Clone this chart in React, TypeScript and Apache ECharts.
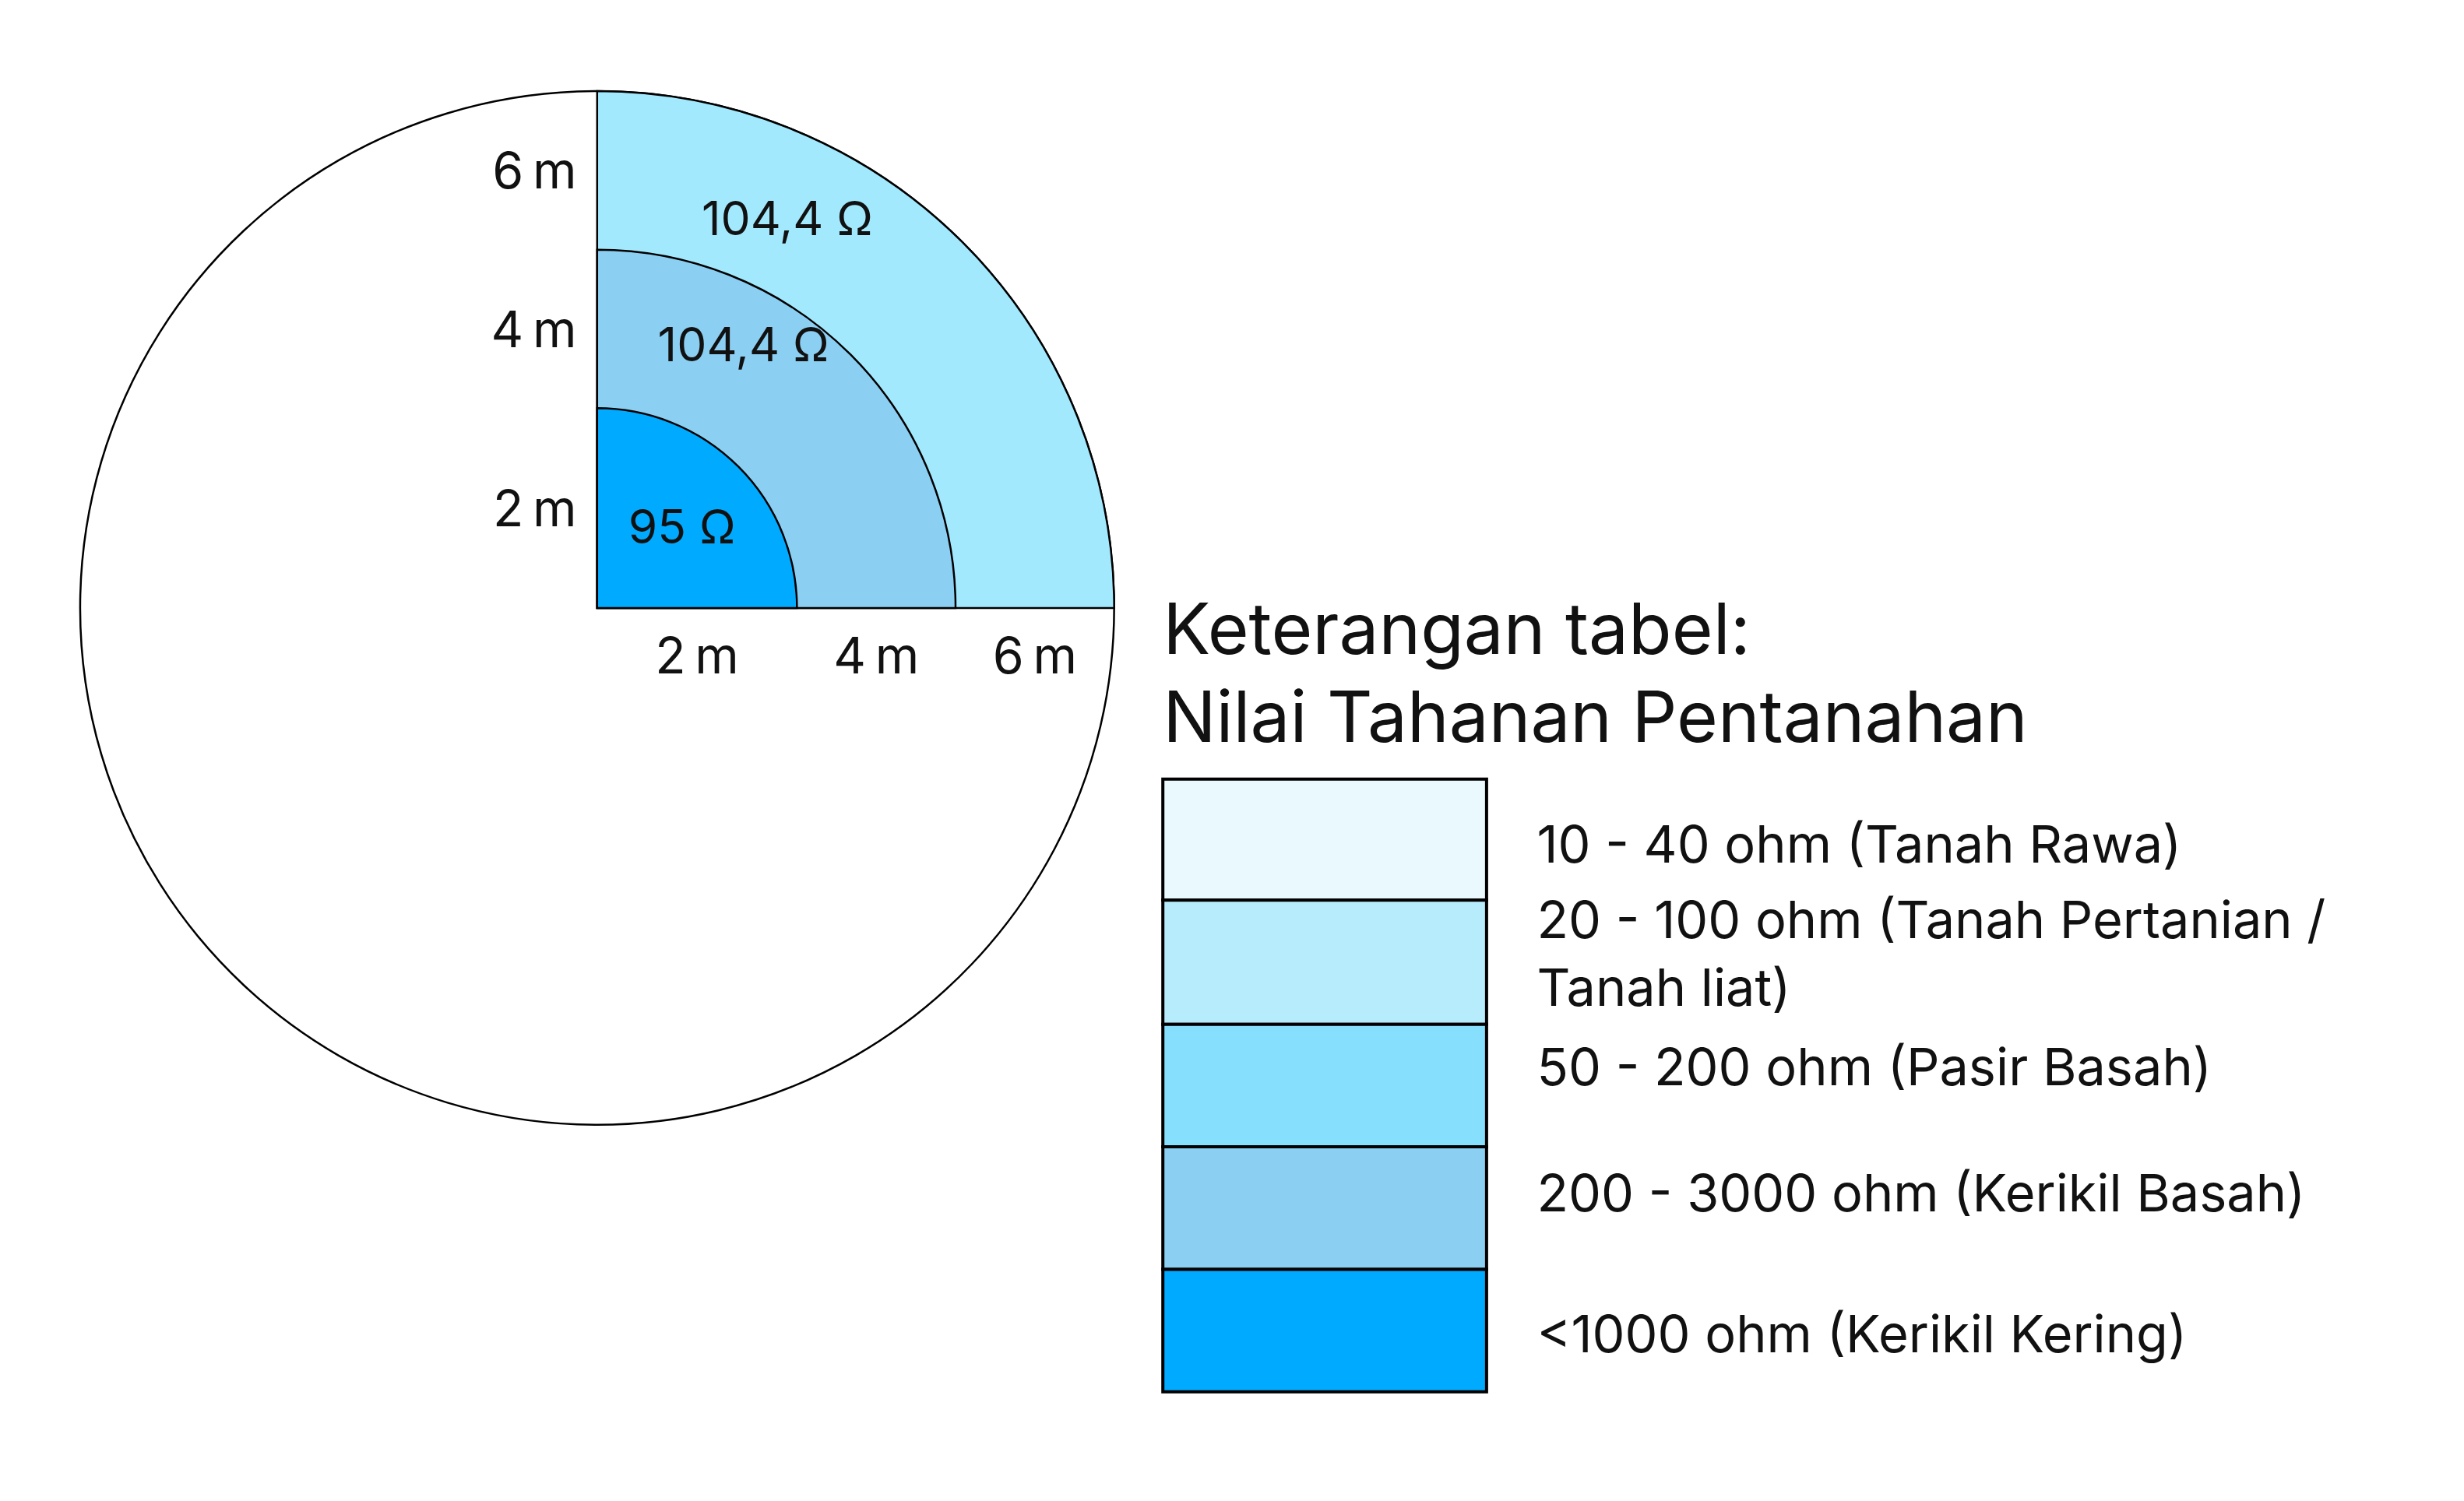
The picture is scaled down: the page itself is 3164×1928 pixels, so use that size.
import React, { useEffect, useRef } from 'react';
import * as echarts from 'echarts';

// ring boundaries (m) and resistances
const ringRanges = [[0, 2], [2, 4], [4, 6]];
const ringLabels = ['95 Ω', '104,4 Ω', '104,4 Ω'];
const ringColors = ['#00aaff', '#8bcff2', '#a3e9fe'];
const tickLabels = ['2\u2009m', '4\u2009m', '6\u2009m'];

const legendItems = [
  '10 - 40 ohm (Tanah Rawa)',
  '20 - 100 ohm (Tanah Pertanian /\nTanah liat)',
  '50 - 200 ohm (Pasir Basah)',
  '200 - 3000 ohm (Kerikil Basah)',
  '<1000 ohm (Kerikil Kering)'
];
const legendColors = ['#eaf9fe', '#b7ecfd', '#86dffc', '#8bcff2', '#00aaff'];

const S = 3164 / 1568;
const FONT = 'Inter, "Noto Sans", sans-serif';

const App: React.FC = () => {
  const chartRef = useRef<HTMLDivElement>(null);

  useEffect(() => {
    document.body.style.margin = '0';
    if (!chartRef.current) return;
    const chart = echarts.init(chartRef.current, undefined, { renderer: 'svg' });

    const cx = 380 * S;
    const cy = 387 * S;

    // distance from centre for a radius value, via the polar axis
    const radiusOf = (api: any, v: number) => {
      const p = api.coord([v, 0]);
      return Math.hypot(p[0] - cx, p[1] - cy);
    };

    // legend rows (display coords)
    const rowTops = [496, 573, 652, 730, 808, 886];
    const textY = [537, 607, 679, 759, 849];
    const legendGraphics: any[] = [];
    legendColors.forEach((c, i) => {
      legendGraphics.push({
        type: 'rect',
        shape: { x: 740 * S, y: rowTops[i] * S, width: 206 * S, height: (rowTops[i + 1] - rowTops[i]) * S },
        style: { fill: c, stroke: '#000', lineWidth: 4 }
      });
      legendGraphics.push({
        type: 'text',
        x: 978 * S,
        y: textY[i] * S,
        style: {
          text: legendItems[i],
          font: `${33 * S}px ${FONT}`,
          fill: '#111',
          textVerticalAlign: 'middle',
          lineHeight: 43 * S
        }
      });
    });
    legendGraphics.push({
      type: 'text',
      x: 740 * S,
      y: 428 * S,
      style: {
        text: 'Keterangan tabel:\nNilai Tahanan Pentanahan',
        font: `${45 * S}px ${FONT}`,
        fill: '#111',
        textVerticalAlign: 'middle',
        lineHeight: 56 * S
      }
    });

    const labelAngles = [46, 29, 26]; // degrees from vertical, layout only
    const labelRadii = [75, 192, 276];

    const option: any = {
      animation: false,
      polar: { center: [cx, cy], radius: [0, 329 * S] },
      radiusAxis: { type: 'value', min: -0.52, max: 6, show: false },
      angleAxis: { type: 'value', min: 0, max: 360, startAngle: 90, show: false },
      series: [
        {
          type: 'custom',
          coordinateSystem: 'polar',
          data: [[6]],
          z: 1,
          renderItem: (params: any, api: any) => ({
            type: 'circle',
            shape: { cx, cy, r: radiusOf(api, api.value(0)) },
            style: { fill: '#fff', stroke: '#000', lineWidth: 2.5 }
          })
        },
        {
          type: 'custom',
          coordinateSystem: 'polar',
          data: ringRanges,
          z: 2,
          renderItem: (params: any, api: any) => {
            const idx = params.dataIndex;
            const r = radiusOf(api, api.value(1));
            return {
              type: 'sector',
              shape: {
                cx, cy, r0: 0, r,
                startAngle: -Math.PI / 2, endAngle: 0, clockwise: true
              },
              style: { fill: ringColors[idx], stroke: '#000', lineWidth: 2.5 },
              z2: ringRanges.length - idx
            };
          }
        },
        {
          type: 'custom',
          coordinateSystem: 'polar',
          data: ringRanges,
          z: 3,
          renderItem: (params: any, api: any) => {
            const i = params.dataIndex;
            const r = radiusOf(api, api.value(1));
            const rPrev = i === 0 ? 0 : radiusOf(api, api.value(0));
            const mid = (r + rPrev) / 2;
            const a = (labelAngles[i] * Math.PI) / 180;
            const lr = labelRadii[i] * S;
            const style = { font: `${30 * S}px ${FONT}`, fill: '#111', textAlign: 'center', textVerticalAlign: 'middle' };
            return {
              type: 'group',
              children: [
                { type: 'text', x: cx + lr * Math.sin(a), y: cy - lr * Math.cos(a), style: { ...style, text: ringLabels[i] } },
                { type: 'text', x: cx + mid, y: cy + 30 * S, style: { ...style, font: `${32 * S}px ${FONT}`, text: tickLabels[i] } },
                { type: 'text', x: cx - 13 * S, y: cy - mid, style: { ...style, font: `${32 * S}px ${FONT}`, textAlign: 'right', text: tickLabels[i] } }
              ]
            };
          }
        }
      ],
      graphic: legendGraphics
    };

    chart.setOption(option);
    return () => chart.dispose();
  }, []);

  return <div ref={chartRef} style={{ width: 3164, height: 1928, background: '#fff' }} />;
};

export default App;
